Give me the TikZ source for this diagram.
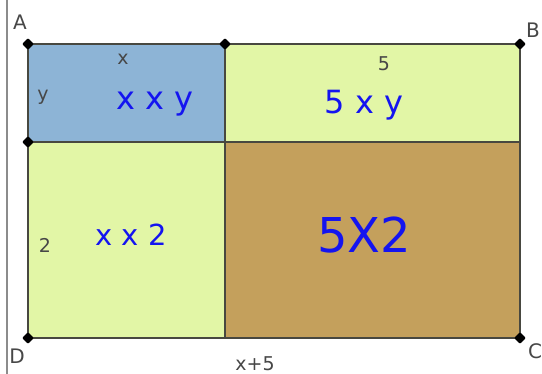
\documentclass[tikz,border=0pt]{standalone}
\usepackage{fontspec}
\setmainfont{DejaVu Sans}
\newfontfamily\handfont{DejaVu Sans}
\usetikzlibrary{shapes.geometric}
\definecolor{cellblue}{RGB}{141,180,214}
\definecolor{cellgreen}{RGB}{226,246,166}
\definecolor{cellbrown}{RGB}{196,160,92}
\definecolor{edgegray}{RGB}{72,72,64}
\definecolor{inkblue}{RGB}{20,20,240}
\definecolor{framegray}{RGB}{140,140,140}
\begin{document}
\begin{tikzpicture}[x=1pt,y=-1pt,
  pt/.style={fill=black,diamond,inner sep=0pt,minimum size=12pt,rounded corners=1pt},
  lbl/.style={font=\fontsize{20}{22}\selectfont,text=black!72},
  side/.style={font=\fontsize{19}{21}\selectfont,text=black!72},
  hand/.style={font=\handfont\fontsize{32}{34}\selectfont,text=inkblue},
  edge/.style={draw=edgegray,line width=1.8pt}]
\useasboundingbox (0,0) rectangle (542,374);
\fill[white] (0,0) rectangle (542,374);
\draw[framegray,line width=2.5pt] (7,0) -- (7,374);
\coordinate (A) at (28,44);
\coordinate (T) at (225,44);
\coordinate (B) at (520,44);
\coordinate (L) at (28,142);
\coordinate (M) at (225,142);
\coordinate (R) at (520,142);
\coordinate (D) at (28,338);
\coordinate (S) at (225,338);
\coordinate (C) at (520,338);
\fill[cellblue] (A) rectangle (M);
\fill[cellgreen] (T) rectangle (R);
\fill[cellgreen] (L) rectangle (S);
\fill[cellbrown] (M) rectangle (C);
\draw[edge] (A) rectangle (C);
\draw[edge] (T) -- (S);
\draw[edge] (L) -- (R);
\foreach \p in {A,T,B,L,D,C} \node[pt] (\p dot) at (\p) {};
\node[lbl] (lA) at (20,22) {A};
\node[lbl] (lB) at (533,30) {B};
\node[lbl] (lC) at (535,351) {C};
\node[lbl] (lD) at (17,356) {D};
\node[side] (sx) at (123,59) {x};
\node[side] (s5) at (384,64) {5};
\node[side] (sy) at (43,97) {y};
\node[side] (s2) at (45,245) {2};
\node[side] (sxp) at (255,364) {x+5};
\node[hand] (h1) at (155,104) {x x y};
\node[hand] (h2) at (364,105) {5 x y};
\node[hand,font=\handfont\fontsize{29}{31}\selectfont] (h3) at (131,235) {x x 2};
\node[hand,font=\handfont\fontsize{48}{50}\selectfont] (h4) at (364,235) {5X2};
\end{tikzpicture}
\end{document}
